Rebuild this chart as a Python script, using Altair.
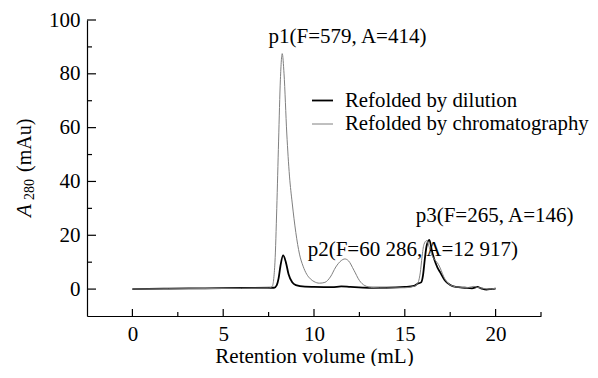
import altair as alt
import pandas as pd

SERIES = ["Refolded by dilution", "Refolded by chromatography"]

# Refolded by dilution (black, thick)
x_dil = [0, 2, 4, 6, 7.8, 7.95, 8.05, 8.15, 8.3, 8.45, 8.6, 8.8, 9.0, 9.5, 10, 11, 11.5, 12, 13, 14,
         15, 15.5, 15.7, 15.9, 16.0, 16.1, 16.2, 16.35, 16.5, 16.65, 16.8, 16.95, 17.2, 17.5, 17.8,
         18.3, 18.7, 19.0, 19.2, 19.5, 19.8, 20.0]
y_dil = [0.0, 0.2, 0.3, 0.4, 0.5, 1.5, 4, 8.5, 12.5, 10, 5.5, 2.5, 1.5, 0.9, 0.8, 0.7, 1.0, 0.8, 0.5, 0.5,
         0.8, 1.2, 2.0, 2.5, 5, 11, 16, 18.3, 14, 10.5, 8, 6.2, 3.3, 1.5, 0.8,
         0.5, 0.3, 0.8, 0.3, -0.2, 0.1, 0.2]

# Refolded by chromatography (gray, thin)
x_chr = [0, 2, 4, 6, 7.5, 7.7, 7.85, 7.95, 8.05, 8.15, 8.25, 8.35, 8.5, 8.65, 8.8, 9.0, 9.2, 9.4, 9.6,
         9.8, 10.0, 10.3, 10.6, 10.9, 11.2, 11.5, 11.7, 11.9, 12.2, 12.5, 12.8, 13.2, 14, 15, 15.5,
         15.7, 15.85, 15.95, 16.05, 16.2, 16.35, 16.5, 16.7, 16.85, 17.0, 17.15, 17.3, 17.6, 18,
         18.5, 18.8, 19.0, 19.3, 19.6, 20.0]
y_chr = [0.0, 0.1, 0.2, 0.3, 0.4, 1.0, 10, 30, 55, 78, 87.5, 80, 58, 42, 32, 21, 13, 8.5, 5.5,
         3.8, 2.8, 2.2, 2.5, 4.5, 8.2, 10.6, 11.2, 10.5, 7, 3.2, 1.3, 0.6, 0.4, 0.5, 1.0,
         2.0, 6, 12, 16.5, 18, 15.5, 12.5, 10.5, 9.2, 7.0, 4.5, 2.8, 1.2, 0.7,
         0.6, 1.0, 0.6, 0.3, 0.0, 0.3]

# Peak annotations
ann_x = [7.5, 9.65, 15.6]
ann_y = [91.4, 12.4, 24.9]
ann_text = ["p1(F=579, A=414)", "p2(F=60 286, A=12 917)", "p3(F=265, A=146)"]

# Axis ticks
x_major = [0, 5, 10, 15, 20]
x_minor = [2.5, 7.5, 12.5, 17.5, 22.5]
y_major = [0, 20, 40, 60, 80, 100]
y_minor = [10, 30, 50, 70, 90]

FONT = "'Liberation Serif', 'Times New Roman', 'DejaVu Serif', serif"
W, H = 454, 296

df = pd.concat([
    pd.DataFrame({"x": x_dil, "y": y_dil, "series": SERIES[0]}),
    pd.DataFrame({"x": x_chr, "y": y_chr, "series": SERIES[1]}),
])
ann = pd.DataFrame({"x": ann_x, "y": ann_y, "label": ann_text})

xscale = alt.Scale(domain=[-2.5, 22.5], nice=False, zero=False)
yscale = alt.Scale(domain=[-10, 100], nice=False, zero=False)
xaxis = alt.Axis(values=x_major, title="Retention volume (mL)", ticks=False, grid=False,
                 labelPadding=7, titleY=29, titleBaseline="top")
yaxis = alt.Axis(values=y_major, title=None, ticks=False, grid=False, labelPadding=7)

legend = alt.Legend(
    title=None, orient="none", legendX=224, legendY=69, symbolType="stroke",
    symbolSize=441, labelFont=FONT, labelFontSize=20.8, labelColor="black",
    labelOffset=11, rowPadding=2, padding=0, labelLimit=400,
)

lines = alt.Chart(df).mark_line(interpolate="monotone").encode(
    x=alt.X("x:Q", scale=xscale, axis=xaxis),
    y=alt.Y("y:Q", scale=yscale, axis=yaxis),
    color=alt.Color("series:N", scale=alt.Scale(domain=SERIES, range=["#000000", "#808080"]),
                    legend=legend),
    strokeWidth=alt.StrokeWidth("series:N", scale=alt.Scale(domain=SERIES, range=[1.8, 1.0]),
                                legend=legend),
)

labels = alt.Chart(ann).mark_text(
    align="left", baseline="alphabetic", font=FONT, fontSize=21, color="black"
).encode(
    x=alt.X("x:Q", scale=xscale, axis=xaxis),
    y=alt.Y("y:Q", scale=yscale, axis=yaxis),
    text="label:N",
)

def xticks(vals, length):
    return alt.Chart(pd.DataFrame({"x": vals})).mark_rule(color="black", strokeWidth=1.2).encode(
        x=alt.X("x:Q", scale=xscale, axis=xaxis),
        y=alt.value(H), y2=alt.value(H - length),
    )

def yticks(vals, length):
    return alt.Chart(pd.DataFrame({"y": vals})).mark_rule(color="black", strokeWidth=1.2).encode(
        y=alt.Y("y:Q", scale=yscale, axis=yaxis),
        x=alt.value(0), x2=alt.value(length),
    )

ytitle_src = pd.DataFrame({"t": ["A"]})
t_a = alt.Chart(ytitle_src).mark_text(
    angle=270, align="left", baseline="alphabetic", font=FONT, fontSize=21,
    fontStyle="italic", color="black"
).encode(text=alt.value("A"), x=alt.value(-56), y=alt.value(197))
t_sub = alt.Chart(ytitle_src).mark_text(
    angle=270, align="left", baseline="alphabetic", font=FONT, fontSize=14, color="black"
).encode(text=alt.value("280"), x=alt.value(-53), y=alt.value(180))
t_unit = alt.Chart(ytitle_src).mark_text(
    angle=270, align="left", baseline="alphabetic", font=FONT, fontSize=20, color="black"
).encode(text=alt.value("(mAu)"), x=alt.value(-56), y=alt.value(152))

chart = alt.layer(
    lines, labels,
    xticks(x_major, 7), xticks(x_minor, 4),
    yticks(y_major, 9), yticks(y_minor, 5),
    t_a, t_sub, t_unit,
).properties(
    width=W, height=H,
    autosize=alt.AutoSizeParams(type="none"),
    padding={"left": 79, "top": 12, "right": 49, "bottom": 50},
).configure_view(stroke=None).configure_axis(
    domainColor="black", domainWidth=1.2, labelFont=FONT, labelFontSize=21,
    labelColor="black", titleFont=FONT, titleFontSize=21, titleFontWeight="normal",
    titleColor="black",
)

chart.save("out.html", embed_options={"renderer": "svg", "actions": False})
